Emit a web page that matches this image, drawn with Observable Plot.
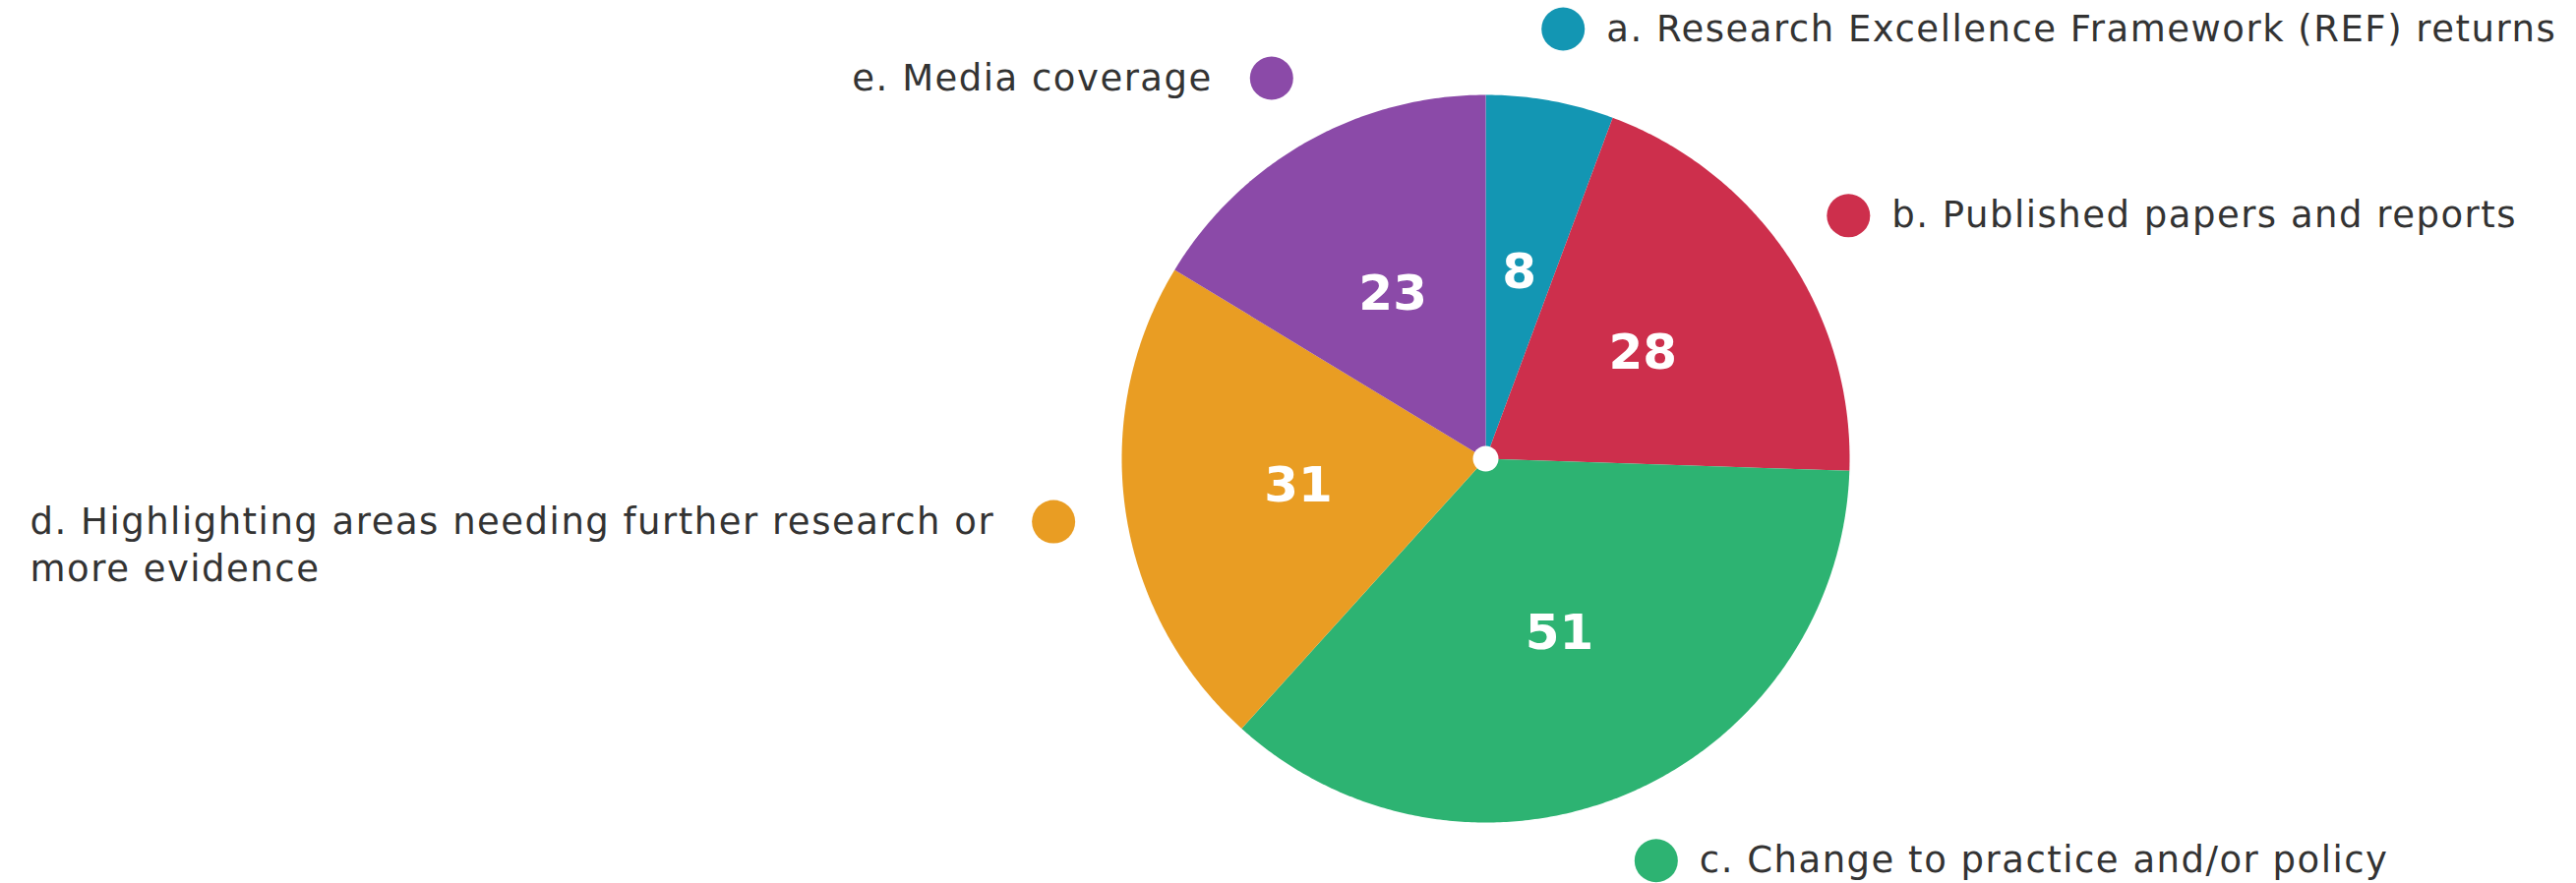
<!DOCTYPE html>
<html>
<head>
<meta charset="utf-8">
<script src="https://cdn.jsdelivr.net/npm/d3@7"></script>
<script src="https://cdn.jsdelivr.net/npm/@observablehq/plot@0.6"></script>
<style>
  html, body { margin: 0; padding: 0; background: #ffffff; }
  #chart svg { display: block; }
  #chart svg g[fill="#333333"] text { letter-spacing: 1.5px; }
</style>
</head>
<body>
<div id="chart"></div>
<script>
// ---- data ----
const categories = [
  "a. Research Excellence Framework (REF) returns",
  "b. Published papers and reports",
  "c. Change to practice and/or policy",
  "d. Highlighting areas needing further research or\nmore evidence",
  "e. Media coverage"
];
const values = [8, 28, 51, 31, 23];
const colors = ["#1396b3", "#cd2f4c", "#2db372", "#e99d23", "#8b4aa8"];

// ---- derived pie geometry (data units, radius = 1) ----
const arcs = d3.pie().sort(null).value(d => d.value)(
  categories.map((key, i) => ({key, value: values[i]}))
);
const polys = [];
arcs.forEach(a => {
  const key = a.data.key;
  polys.push({key, x: 0, y: 0});
  const n = Math.max(2, Math.ceil((a.endAngle - a.startAngle) / (Math.PI / 360)));
  for (let k = 0; k <= n; k++) {
    const t = a.startAngle + (a.endAngle - a.startAngle) * k / n;
    polys.push({key, x: Math.sin(t), y: Math.cos(t)});
  }
  polys.push({key, x: 0, y: 0});
});
const mids = arcs.map(a => {
  const m = (a.startAngle + a.endAngle) / 2;
  return {key: a.data.key, value: a.data.value, sx: Math.sin(m), sy: Math.cos(m)};
});
const inner = mids.map(d => ({...d, x: 0.52 * d.sx, y: 0.52 * d.sy}));
const outer = mids.map(d => ({...d, x: 1.2 * d.sx, y: 1.2 * d.sy}));

const font = "'DejaVu Sans', 'Noto Sans', sans-serif";

const chart = Plot.plot({
  width: 2619,
  height: 898,
  marginLeft: 1140,
  marginRight: 739,
  marginTop: 96,
  marginBottom: 62,
  x: {domain: [-1, 1], axis: null},
  y: {domain: [-1, 1], axis: null},
  color: {domain: categories, range: colors},
  style: {background: "#ffffff"},
  marks: [
    Plot.line(polys, {x: "x", y: "y", z: "key", fill: "key", stroke: null, curve: "linear"}),
    Plot.dot([null], {frameAnchor: "middle", r: 13, fill: "#ffffff", stroke: null}),
    Plot.text(inner, {
      x: "x", y: "y", text: d => String(d.value),
      fill: "#ffffff", fontSize: 50, fontWeight: "bold",
      fontFamily: "'DejaVu Sans', sans-serif"
    }),
    Plot.dot(outer, {x: "x", y: "y", r: 22, fill: "key", stroke: null}),
    Plot.text(outer.filter(d => d.sx >= 0), {
      x: "x", y: "y", text: "key", textAnchor: "start", lineAnchor: "top",
      dx: 44, dy: -22, fontSize: 37, lineHeight: 1.3, fill: "#333333", fontFamily: font
    }),
    Plot.text(outer.filter(d => d.sx < 0), {
      x: "x", y: "y", text: "key", textAnchor: "end", lineAnchor: "top",
      dx: -60, dy: -22, fontSize: 37, lineHeight: 1.3, fill: "#333333", fontFamily: font
    })
  ]
});
document.getElementById("chart").appendChild(chart);

// left-align the lines of multi-line labels that are anchored at their right end
chart.querySelectorAll("text").forEach(t => {
  const spans = t.querySelectorAll("tspan");
  if (spans.length < 2) return;
  const g = t.closest("[text-anchor]");
  const anchor = t.getAttribute("text-anchor") || (g && g.getAttribute("text-anchor"));
  if (anchor !== "end") return;
  const bb = t.getBBox();
  t.setAttribute("text-anchor", "start");
  spans.forEach(s => s.setAttribute("x", bb.x));
});
</script>
</body>
</html>
